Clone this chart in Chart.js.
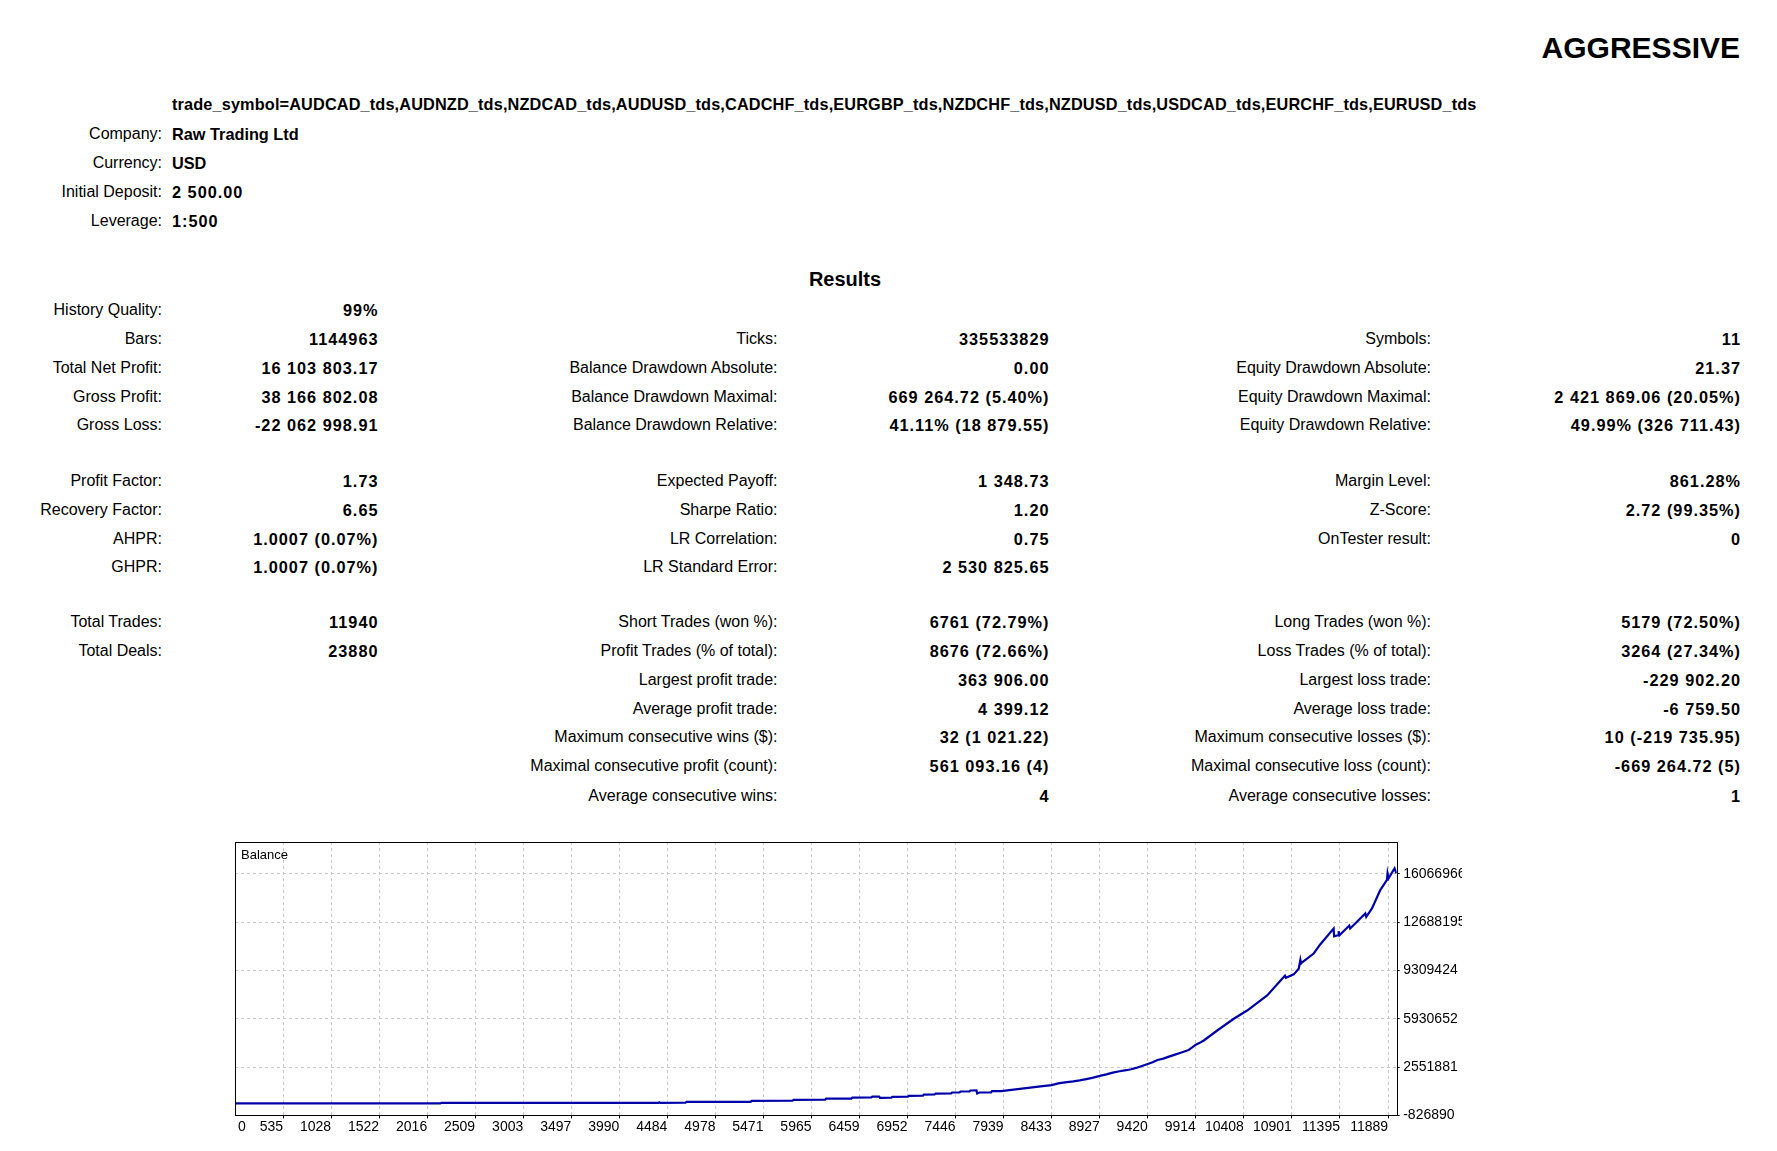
<!DOCTYPE html>
<html>
<head>
<meta charset="utf-8">
<script src="https://cdn.jsdelivr.net/npm/chart.js@4.4.0/dist/chart.umd.min.js"></script>
<style>
html,body{margin:0;padding:0;background:#fff;}
body{position:relative;width:1777px;height:1151px;overflow:hidden;font-family:"Liberation Sans",Arial,sans-serif;color:#000;}
.t{position:absolute;white-space:nowrap;font-size:16px;line-height:20px;height:20px;}
.r{text-align:right;}
.b{font-weight:bold;font-size:16.3px;}
.n{letter-spacing:1px;}
.sym{letter-spacing:0.14px;}
#title{position:absolute;right:37px;top:30px;font-size:30px;line-height:36px;font-weight:bold;white-space:nowrap;}
#results{position:absolute;left:745px;width:200px;top:266.7px;text-align:center;font-size:20px;line-height:24px;font-weight:bold;}
#chartBox{position:absolute;left:200px;top:830px;width:1262px;height:321px;}
</style>
</head>
<body>
<div id="title">AGGRESSIVE</div>
<div id="results">Results</div>
<div id="chartBox"><canvas id="c"></canvas></div>
<script>
// ---------- report text ----------
const symbolLine = "trade_symbol=AUDCAD_tds,AUDNZD_tds,NZDCAD_tds,AUDUSD_tds,CADCHF_tds,EURGBP_tds,NZDCHF_tds,NZDUSD_tds,USDCAD_tds,EURCHF_tds,EURUSD_tds";
const headerLabels = ["Company:", "Currency:", "Initial Deposit:", "Leverage:"];
const headerValues = ["Raw Trading Ltd", "USD", "2 500.00", "1:500"];

const col1Labels = ["History Quality:", "Bars:", "Total Net Profit:", "Gross Profit:", "Gross Loss:",
  "Profit Factor:", "Recovery Factor:", "AHPR:", "GHPR:",
  "Total Trades:", "Total Deals:", null, null, null, null, null];
const col1Values = ["99%", "1144963", "16 103 803.17", "38 166 802.08", "-22 062 998.91",
  "1.73", "6.65", "1.0007 (0.07%)", "1.0007 (0.07%)",
  "11940", "23880", null, null, null, null, null];

const col2Labels = [null, "Ticks:", "Balance Drawdown Absolute:", "Balance Drawdown Maximal:", "Balance Drawdown Relative:",
  "Expected Payoff:", "Sharpe Ratio:", "LR Correlation:", "LR Standard Error:",
  "Short Trades (won %):", "Profit Trades (% of total):", "Largest profit trade:", "Average profit trade:",
  "Maximum consecutive wins ($):", "Maximal consecutive profit (count):", "Average consecutive wins:"];
const col2Values = [null, "335533829", "0.00", "669 264.72 (5.40%)", "41.11% (18 879.55)",
  "1 348.73", "1.20", "0.75", "2 530 825.65",
  "6761 (72.79%)", "8676 (72.66%)", "363 906.00", "4 399.12",
  "32 (1 021.22)", "561 093.16 (4)", "4"];

const col3Labels = [null, "Symbols:", "Equity Drawdown Absolute:", "Equity Drawdown Maximal:", "Equity Drawdown Relative:",
  "Margin Level:", "Z-Score:", "OnTester result:", null,
  "Long Trades (won %):", "Loss Trades (% of total):", "Largest loss trade:", "Average loss trade:",
  "Maximum consecutive losses ($):", "Maximal consecutive loss (count):", "Average consecutive losses:"];
const col3Values = [null, "11", "21.37", "2 421 869.06 (20.05%)", "49.99% (326 711.43)",
  "861.28%", "2.72 (99.35%)", "0", null,
  "5179 (72.50%)", "3264 (27.34%)", "-229 902.20", "-6 759.50",
  "10 (-219 735.95)", "-669 264.72 (5)", "1"];

// ---------- chart data ----------
const tradeNumbers = [41, 2150, 2165, 4395, 4400, 4410, 4670, 4680, 5340, 5350, 5770, 5780, 6105, 6115, 6375, 6385,
  6580, 6590, 6660, 6670, 6785, 6795, 6955, 6965, 7110, 7120, 7230, 7240, 7400, 7410, 7486, 7496, 7588, 7598,
  7660, 7667, 7691, 7810, 7820, 7913, 7998, 8084, 8170, 8255, 8340, 8433, 8500, 8570, 8655, 8720, 8790, 8860,
  8927, 8995, 9060, 9130, 9200, 9250, 9300, 9360, 9420, 9470, 9520, 9580, 9637, 9700, 9774, 9840, 9880, 9914,
  9960, 9996, 10134, 10304, 10441, 10647, 10801, 10830, 10840, 10920, 10971, 10988, 10995, 11010, 11125, 11194,
  11330, 11335, 11375, 11382, 11390, 11450, 11491, 11500, 11570, 11656, 11665, 11724, 11809, 11878, 11884, 11895,
  11956, 11975];
const balanceValues = [2500, 2500, 50000, 50000, 80000, 50000, 52000, 117000, 118000, 190000, 192000, 260000, 265000, 335000, 345000, 416000,
  420000, 487000, 490000, 395000, 400000, 465000, 470000, 535000, 540000, 627000, 630000, 697000, 700000, 768000, 772000, 838000, 842000, 908000,
  915000, 697000, 768000, 772000, 862000, 868000, 932000, 1000000, 1070000, 1140000, 1220000, 1290000, 1410000, 1480000, 1550000, 1620000, 1710000, 1810000,
  1930000, 2040000, 2160000, 2260000, 2330000, 2400000, 2490000, 2630000, 2770000, 2880000, 3050000, 3140000, 3280000, 3420000, 3590000, 3750000, 3940000, 4120000,
  4270000, 4410000, 5110000, 5930000, 6510000, 7570000, 8740000, 8950000, 8800000, 9040000, 9440000, 10050000, 9800000, 9900000, 10500000, 11150000,
  12250000, 11700000, 11780000, 12060000, 11780000, 12180000, 12460000, 12250000, 12720000, 13310000, 13070000, 13660000, 14940000, 15650000, 16120000, 15770000,
  16470000, 16106303];
const xTickValues = [535, 1028, 1522, 2016, 2509, 3003, 3497, 3990, 4484, 4978, 5471, 5965, 6459, 6952, 7446, 7939,
  8433, 8927, 9420, 9914, 10408, 10901, 11395, 11889];
const yTickValues = [-826890, 2551881, 5930652, 9309424, 12688195, 16066966];
const xRange = [41.3, 11978];
const yRange = [-826890, 18307300];

// ---------- build report text ----------
function addText(txt, cls, left, width, yCenter) {
  const d = document.createElement('div');
  d.className = 't ' + cls;
  d.textContent = txt;
  d.style.left = left + 'px';
  if (width) d.style.width = width + 'px';
  d.style.top = (yCenter - 9.8) + 'px';
  document.body.appendChild(d);
}
addText(symbolLine, 'b sym', 172, 0, 104);
const headerY = [133.5, 162.5, 191.5, 220.5];
headerLabels.forEach((l, i) => {
  addText(l, 'r', 162 - 300, 300, headerY[i]);
  addText(headerValues[i], 'b' + (i >= 2 ? ' n' : ''), 172, 0, headerY[i]);
});
const rowsY = [310, 339, 368, 396.5, 425, 481, 509.5, 538.5, 567, 621.5, 650.5, 679.5, 708.5, 737, 766, 795.5];
const cols = [
  {labels: col1Labels, values: col1Values, labelRight: 162, valueRight: 378.5},
  {labels: col2Labels, values: col2Values, labelRight: 777.5, valueRight: 1049.5},
  {labels: col3Labels, values: col3Values, labelRight: 1431, valueRight: 1741}
];
cols.forEach(c => {
  rowsY.forEach((y, i) => {
    if (c.labels[i]) addText(c.labels[i], 'r', c.labelRight - 400, 400, y);
    if (c.values[i]) addText(c.values[i], 'r b n', c.valueRight - 300, 300, y);
  });
});

// ---------- chart ----------
const framePlugin = {
  id: 'frame',
  afterDatasetsDraw(chart) {
    const {ctx, chartArea} = chart;
    const l = Math.round(chartArea.left) + 0.5, t = Math.round(chartArea.top) + 0.5;
    const r = Math.round(chartArea.right) + 0.5, b = Math.round(chartArea.bottom) + 0.5;
    ctx.save();
    ctx.strokeStyle = '#000';
    ctx.lineWidth = 1;
    ctx.setLineDash([]);
    ctx.strokeRect(l, t, r - l, b - t);
    ctx.fillStyle = '#000';
    ctx.font = '13px "Liberation Sans", Arial, sans-serif';
    ctx.textAlign = 'left';
    ctx.textBaseline = 'middle';
    ctx.fillText('Balance', chartArea.left + 6, chartArea.top + 13);
    ctx.font = '14px "Liberation Sans", Arial, sans-serif';
    ctx.fillText('0', chartArea.left + 3, chartArea.bottom + 11.4);
    ctx.restore();
  }
};

const gridCommon = {color: '#c8c8c8', lineWidth: 1, tickColor: '#000', tickWidth: 1, tickBorderDash: [], drawTicks: true};
const tickFont = {family: '"Liberation Sans", Arial, sans-serif', size: 14};

new Chart(document.getElementById('c'), {
  type: 'line',
  data: {
    datasets: [{
      label: 'Balance',
      data: tradeNumbers.map((x, i) => ({x: x, y: balanceValues[i]})),
      borderColor: '#0000aa',
      borderWidth: 2.2,
      pointRadius: 0,
      tension: 0,
      fill: false
    }]
  },
  options: {
    responsive: true,
    maintainAspectRatio: false,
    animation: false,
    devicePixelRatio: 1,
    layout: {padding: {left: 35, top: 12, right: 0, bottom: 0}},
    plugins: {legend: {display: false}, tooltip: {enabled: false}, title: {display: false}},
    scales: {
      x: {
        type: 'linear', position: 'bottom', min: xRange[0], max: xRange[1],
        afterBuildTicks: s => { s.ticks = xTickValues.map(v => ({value: v})); },
        afterFit: s => { s.height = 35.7; s.paddingLeft = 0; s.paddingRight = 0; },
        ticks: {align: 'end', font: tickFont, color: '#000', padding: 0, maxRotation: 0, minRotation: 0, autoSkip: false,
          callback: v => String(v)},
        grid: Object.assign({}, gridCommon, {tickLength: 3}),
        border: {display: false, dash: [3, 3]}
      },
      y: {
        type: 'linear', position: 'right', min: yRange[0], max: yRange[1],
        afterBuildTicks: s => { s.ticks = yTickValues.map(v => ({value: v})); },
        afterFit: s => { s.width = 65.3; s.paddingTop = 0; s.paddingBottom = 0; },
        ticks: {font: tickFont, color: '#000', padding: 3.5, autoSkip: false, callback: v => String(v)},
        grid: Object.assign({}, gridCommon, {tickLength: 3}),
        border: {display: false, dash: [3, 3]}
      }
    }
  },
  plugins: [framePlugin]
});
</script>
</body>
</html>
